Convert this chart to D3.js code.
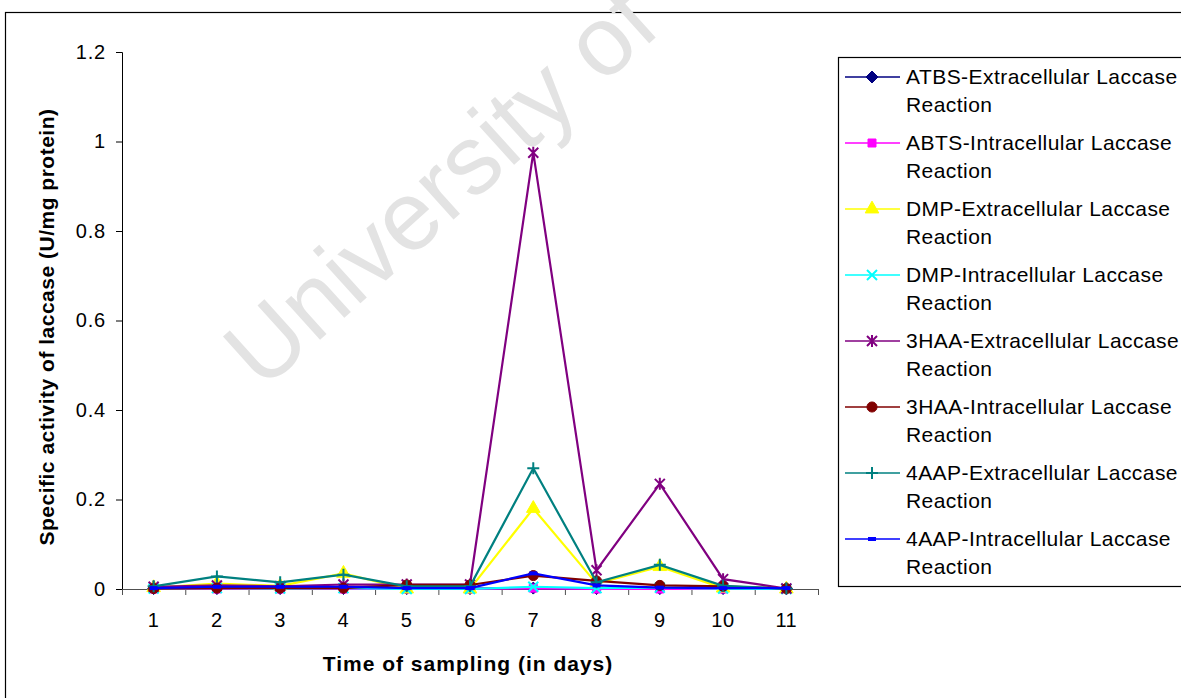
<!DOCTYPE html>
<html>
<head>
<meta charset="utf-8">
<script src="https://cdn.jsdelivr.net/npm/d3@7"></script>
<style>
  body { margin: 0; background: #fff; }
  text { font-family: "Liberation Sans", Arial, sans-serif; }
</style>
</head>
<body>
<svg id="chart"></svg>
<script>
// jours d'échantillonnage
const days = [1, 2, 3, 4, 5, 6, 7, 8, 9, 10, 11];

// activité spécifique (U/mg protéine)
const atbsExtra = [0.001, 0.001, 0.001, 0.001, 0.001, 0.001, 0.002, 0.001, 0.001, 0.001, 0.001];
const abtsIntra = [0, 0, 0, 0, 0, 0, 0.002, 0, 0, 0, 0];
const dmpExtra  = [0.003, 0.012, 0.007, 0.035, 0, 0, 0.18, 0.012, 0.05, 0.002, 0];
const dmpIntra  = [0.001, 0.002, 0.001, 0.002, 0, 0, 0.005, 0.002, 0.003, 0.001, 0];
const haaExtra  = [0.005, 0.008, 0.006, 0.01, 0.01, 0.01, 0.975, 0.042, 0.235, 0.022, 0.001];
const haaIntra  = [0.001, 0.002, 0.002, 0.002, 0.009, 0.009, 0.03, 0.018, 0.008, 0.006, 0.001];
const aapExtra  = [0.006, 0.028, 0.015, 0.032, 0.006, 0.006, 0.27, 0.015, 0.054, 0.007, 0.001];
const aapIntra  = [0.002, 0.005, 0.005, 0.005, 0.002, 0.002, 0.035, 0.008, 0.003, 0.002, 0.002];

const seriesNames = [
    "ATBS-Extracellular Laccase",
    "ABTS-Intracellular Laccase",
    "DMP-Extracellular Laccase",
    "DMP-Intracellular Laccase",
    "3HAA-Extracellular Laccase",
    "3HAA-Intracellular Laccase",
    "4AAP-Extracellular Laccase",
    "4AAP-Intracellular Laccase"
];
const seriesValues = [atbsExtra, abtsIntra, dmpExtra, dmpIntra, haaExtra, haaIntra, aapExtra, aapIntra];
const yTicks = [0, 0.2, 0.4, 0.6, 0.8, 1, 1.2];

// styles (couleur + marqueur) façon Excel
const colors  = ["#000080", "#FF00FF", "#FFFF00", "#00FFFF", "#800080", "#800000", "#008080", "#0000FF"];
const markers = ["diamond", "square", "triangle", "cross", "star", "circle", "plus", "dash"];

const series = seriesNames.map((name, i) => ({
    name: name,
    color: colors[i],
    marker: markers[i],
    values: days.map((d, j) => ({ day: d, value: seriesValues[i][j] }))
}));

const width = 1181;
const height = 698;

const svg = d3.select('#chart')
    .attr('width', width)
    .attr('height', height);

// cadre extérieur
svg.append('rect')
    .attr('x', 5.5).attr('y', 12.5)
    .attr('width', 1300).attr('height', 800)
    .attr('fill', 'none').attr('stroke', '#000').attr('stroke-width', 1.2);

// filigrane
svg.append('text')
    .attr('transform', 'translate(440,186) rotate(-42)')
    .attr('text-anchor', 'middle')
    .attr('dominant-baseline', 'central')
    .style('font-size', '98px')
    .style('fill', '#e3e3e3')
    .text('University of');

const plot = { left: 122, right: 818, top: 52, bottom: 589 };

const x = d3.scaleBand()
    .domain(days)
    .range([plot.left, plot.right]);

const xEdges = d3.scaleLinear()
    .domain([0, days.length])
    .range([plot.left, plot.right]);

const y = d3.scaleLinear()
    .domain([0, 1.2])
    .range([plot.bottom, plot.top]);

// axe Y
const yAxis = svg.append('g')
    .attr('transform', `translate(${plot.left},0)`)
    .call(d3.axisLeft(y).tickValues(yTicks).tickSize(6).tickPadding(10).tickFormat(d3.format('~g')));
yAxis.selectAll('text')
    .style('font-size', '20px')
    .style('letter-spacing', '0.8px')
    .style('font-family', '"Liberation Sans", Arial, sans-serif')
    .attr('fill', '#000');
yAxis.selectAll('line, path').attr('stroke', '#000');

// axe X : traits aux bords des catégories
const xAxis = svg.append('g')
    .attr('transform', `translate(0,${plot.bottom})`)
    .call(d3.axisBottom(xEdges).ticks(days.length).tickSize(6).tickFormat(''));
xAxis.selectAll('line, path').attr('stroke', '#505050');

const xLabels = svg.append('g')
    .attr('transform', `translate(0,${plot.bottom})`)
    .call(d3.axisBottom(x).tickSize(0).tickPadding(24));
xLabels.select('.domain').remove();
xLabels.selectAll('text')
    .style('font-size', '20px')
    .style('letter-spacing', '0.6px')
    .style('font-family', '"Liberation Sans", Arial, sans-serif')
    .attr('fill', '#000');

// titres des axes
svg.append('text')
    .attr('transform', 'translate(54,327) rotate(-90)')
    .attr('text-anchor', 'middle')
    .style('font-size', '21px')
    .style('font-weight', 'bold')
    .style('letter-spacing', '0.5px')
    .text('Specific activity of laccase (U/mg protein)');

svg.append('text')
    .attr('x', 468).attr('y', 671)
    .attr('text-anchor', 'middle')
    .style('font-size', '21px')
    .style('font-weight', 'bold')
    .style('letter-spacing', '1px')
    .text('Time of sampling (in days)');

// marqueurs
function markerPath(type) {
    const s = 5;
    switch (type) {
        case 'diamond': return 'M0,-6L6,0L0,6L-6,0Z';
        case 'square': return d3.symbol(d3.symbolSquare, 64)();
        case 'triangle': return d3.symbol(d3.symbolTriangle, 80)();
        case 'circle': return d3.symbol(d3.symbolCircle, 80)();
        case 'cross': return `M${-s},${-s}L${s},${s}M${-s},${s}L${s},${-s}`;
        case 'star': return `M${-s},${-s}L${s},${s}M${-s},${s}L${s},${-s}M0,${-s - 1}L0,${s + 1}`;
        case 'plus': return `M${-s - 1},0L${s + 1},0M0,${-s - 1}L0,${s + 1}`;
        case 'dash': return `M-4,0L4,0`;
    }
}
const strokeMarkers = ['cross', 'star', 'plus'];

function drawMarker(g, type, color) {
    const p = g.append('path').attr('d', markerPath(type));
    if (strokeMarkers.includes(type)) {
        p.attr('fill', 'none').attr('stroke', color).attr('stroke-width', 2);
    } else if (type === 'dash') {
        p.attr('fill', 'none').attr('stroke', color).attr('stroke-width', 4);
    } else {
        p.attr('fill', color).attr('stroke', color).attr('stroke-width', 1);
    }
}

const line = d3.line()
    .x(d => x(d.day) + x.bandwidth() / 2)
    .y(d => y(d.value));

series.forEach(s => {
    const g = svg.append('g');
    g.append('path')
        .datum(s.values)
        .attr('d', line)
        .attr('fill', 'none')
        .attr('stroke', s.color)
        .attr('stroke-width', 2.2);
    s.values.forEach(v => {
        const m = g.append('g')
            .attr('transform', `translate(${x(v.day) + x.bandwidth() / 2},${y(v.value)})`);
        drawMarker(m, s.marker, s.color);
    });
});

// légende
const legend = svg.append('g');
legend.append('rect')
    .attr('x', 838.5).attr('y', 57.5)
    .attr('width', 400).attr('height', 529)
    .attr('fill', '#fff').attr('stroke', '#000').attr('stroke-width', 1.2);

series.forEach((s, i) => {
    const ly = 77 + i * 66;
    const item = legend.append('g').attr('transform', `translate(0,${ly})`);
    item.append('line')
        .attr('x1', 845).attr('x2', 900)
        .attr('stroke', s.color).attr('stroke-width', 1.6);
    const m = item.append('g').attr('transform', 'translate(872,0)');
    drawMarker(m, s.marker, s.color);
    item.append('text')
        .attr('x', 906).attr('y', 7)
        .style('font-size', '21px')
        .style('letter-spacing', '0.45px')
        .text(s.name);
    item.append('text')
        .attr('x', 906).attr('y', 35)
        .style('font-size', '21px')
        .style('letter-spacing', '0.45px')
        .text('Reaction');
});
</script>
</body>
</html>
